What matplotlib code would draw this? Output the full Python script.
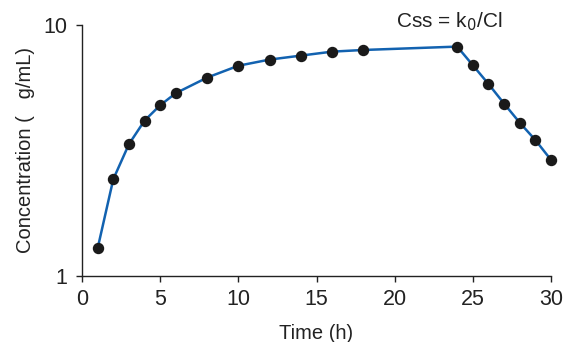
import matplotlib
matplotlib.use("Agg")
from matplotlib import pyplot as plt
from matplotlib.ticker import FixedLocator, NullLocator

time_h = [1, 2, 3, 4, 5, 6, 8, 10, 12, 14, 16, 18, 24, 25, 26, 27, 28, 29, 30]
conc = [1.29, 2.43, 3.35, 4.16, 4.79, 5.35, 6.17, 6.88, 7.28, 7.55, 7.83, 7.95,
        8.20, 6.91, 5.82, 4.86, 4.08, 3.48, 2.90]

x_ticks = [0, 5, 10, 15, 20, 25, 30]
y_ticks = [1, 10]

plt.rcParams["font.family"] = ["Liberation Sans", "DejaVu Sans"]

fig = plt.figure(figsize=(5.63, 3.42), dpi=100)
ax = fig.add_axes([0.1457, 0.193, 0.8330, 0.734])

ax.plot(time_h, conc, color="#1262b0", lw=1.8, marker="o", ms=7.2,
        mfc="#1a1a1a", mec="#1a1a1a", zorder=3, clip_on=False)

ax.set_yscale("log")
ax.set_xlim(0, 30)
ax.set_ylim(1, 10)
ax.xaxis.set_major_locator(FixedLocator(x_ticks))
ax.yaxis.set_major_locator(FixedLocator(y_ticks))
ax.yaxis.set_minor_locator(NullLocator())
ax.set_yticklabels([str(v) for v in y_ticks])

for s in ["top", "right"]:
    ax.spines[s].set_visible(False)
for s in ["left", "bottom"]:
    ax.spines[s].set_linewidth(1.0)
    ax.spines[s].set_color("#222222")

ax.tick_params(direction="out", length=4.5, width=1.0, colors="#222222",
               labelsize=15.5, labelcolor="#222222")
ax.tick_params(axis="x", pad=5)
ax.tick_params(axis="y", pad=6)

ax.set_xlabel("Time (h)", fontsize=14.5, color="#222222", labelpad=10)
ax.set_ylabel("Concentration (   g/mL)", fontsize=14.5, color="#222222", labelpad=6)

ax.text(0.7836, 0.992, "Css = k$_0$/Cl", transform=ax.transAxes, fontsize=15,
        color="#222222", ha="center", va="baseline")

fig.savefig("out.png", dpi=100)
